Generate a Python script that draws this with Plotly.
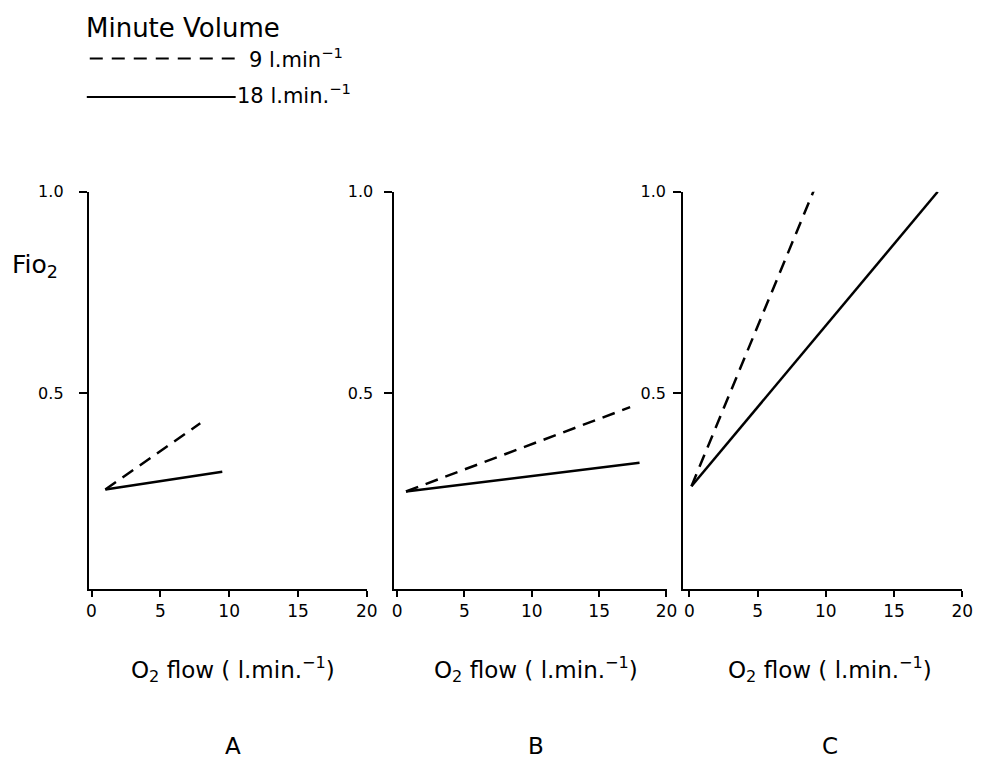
import plotly.graph_objects as go

W, H = 992, 761
FONT = "DejaVu Sans"

panels = ["A", "B", "C"]
# O2 flow (l/min) and FiO2 for each panel, minute volume 9 l/min (dashed) and 18 l/min (solid)
flow_9 = {"A": [1.0, 7.9], "B": [0.66, 17.3], "C": [0.15, 9.2]}
fio_9 = {"A": [0.262, 0.426], "B": [0.257, 0.466], "C": [0.27, 1.01]}
flow_18 = {"A": [1.0, 9.5], "B": [0.66, 18.0], "C": [0.15, 18.2]}
fio_18 = {"A": [0.262, 0.306], "B": [0.257, 0.328], "C": [0.27, 1.0]}

x_ticks = [0, 5, 10, 15, 20]
y_ticks = [0.5, 1.0]
y_tick_text = ["0.5", "1.0"]

def px(x):
    return x / W

def py(y):
    return 1 - y / H

x_domains = [(87, 369), (397, 673), (690, 973)]
x_ranges = [[-0.2, 20], [-0.2, 20], [-0.45, 20]]
y_dom = [py(587), py(185)]
standoffs = [12, 8, 4]

fig = go.Figure()
for i, p in enumerate(panels):
    xa = "x" if i == 0 else f"x{i+1}"
    ya = "y" if i == 0 else f"y{i+1}"
    fig.add_trace(go.Scatter(x=flow_9[p], y=fio_9[p], mode="lines", xaxis=xa, yaxis=ya,
                             line=dict(color="black", width=2.5, dash="13px,8px"), showlegend=False))
    fig.add_trace(go.Scatter(x=flow_18[p], y=fio_18[p], mode="lines", xaxis=xa, yaxis=ya,
                             line=dict(color="black", width=2.5), showlegend=False))

layout = dict(
    width=W, height=H, margin=dict(l=0, r=0, t=0, b=0),
    paper_bgcolor="white", plot_bgcolor="white",
    font=dict(family=FONT, color="black"),
    showlegend=False,
)
for i, p in enumerate(panels):
    sx = "" if i == 0 else str(i + 1)
    d0, d1 = x_domains[i]
    layout[f"xaxis{sx}"] = dict(
        domain=[px(d0), px(d1)], range=x_ranges[i], tickvals=x_ticks,
        ticktext=[str(t) for t in x_ticks], ticks="outside", ticklen=6, tickwidth=2,
        tickcolor="black", showline=True, linecolor="black", linewidth=2,
        showgrid=False, zeroline=False, anchor="y" + sx,
        tickfont=dict(size=17, family=FONT), fixedrange=True,
    )
    layout[f"yaxis{sx}"] = dict(
        domain=y_dom, range=[0.015, 1.0], tickvals=y_ticks, ticktext=y_tick_text,
        ticks="outside", ticklen=8, tickwidth=2, tickcolor="black",
        showline=True, linecolor="black", linewidth=2, showgrid=False, zeroline=False,
        anchor="x" + sx, tickfont=dict(size=16, family=FONT), fixedrange=True,
        ticklabelstandoff=standoffs[i],
    )
fig.update_layout(**layout)

annotations = []
for i, p in enumerate(panels):
    sx = "" if i == 0 else str(i + 1)
    annotations.append(dict(
        x=10.3, xref="x" + sx, y=py(668), yref="paper",
        text="O<sub>2</sub> flow ( l.min.<sup>−1</sup>)", showarrow=False,
        font=dict(size=23, family=FONT), xanchor="center", yanchor="middle"))
    annotations.append(dict(
        x=10.3, xref="x" + sx, y=py(746), yref="paper", text=p, showarrow=False,
        font=dict(size=23, family=FONT), xanchor="center", yanchor="middle"))

annotations.append(dict(x=px(7), y=py(260), xref="paper", yref="paper",
                        text="Fio<sub>2</sub>", showarrow=False,
                        font=dict(size=25, family=FONT), xanchor="left", yanchor="middle"))
annotations.append(dict(x=px(82), y=py(19), xref="paper", yref="paper",
                        text="Minute Volume", showarrow=False,
                        font=dict(size=26, family=FONT), xanchor="left", yanchor="middle"))
annotations.append(dict(x=px(247), y=py(50), xref="paper", yref="paper",
                        text="9 l.min<sup>−1</sup>", showarrow=False,
                        font=dict(size=21, family=FONT), xanchor="left", yanchor="middle"))
annotations.append(dict(x=px(235), y=py(86), xref="paper", yref="paper",
                        text="18 l.min.<sup>−1</sup>", showarrow=False,
                        font=dict(size=21, family=FONT), xanchor="left", yanchor="middle"))
fig.update_layout(annotations=annotations)

fig.add_shape(type="line", xref="paper", yref="paper", x0=px(88), x1=px(235),
              y0=py(50), y1=py(50), line=dict(color="black", width=2, dash="13px,9px"))
fig.add_shape(type="line", xref="paper", yref="paper", x0=px(85), x1=px(236),
              y0=py(89), y1=py(89), line=dict(color="black", width=2))

fig.write_html("out.html")
